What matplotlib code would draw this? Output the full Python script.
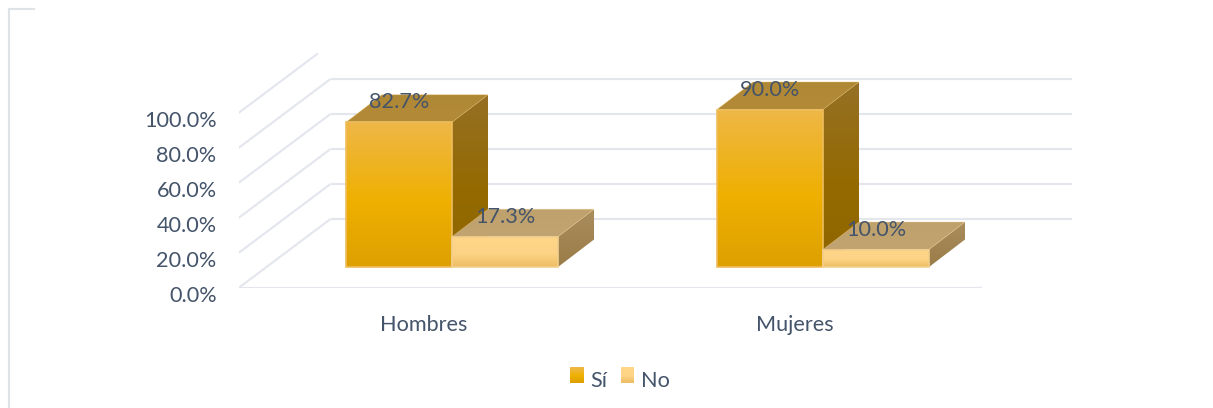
import numpy as np
import matplotlib
matplotlib.use("Agg")
import matplotlib.pyplot as plt
from matplotlib.colors import LinearSegmentedColormap
from matplotlib.legend_handler import HandlerBase
from matplotlib.lines import Line2D
from matplotlib.patches import Patch, Polygon, Rectangle
from matplotlib.transforms import ScaledTranslation

categories = ["Hombres", "Mujeres"]
si_values = [82.7, 90.0]
no_values = [17.3, 10.0]
series_names = ["Sí", "No"]
y_ticks = [0, 20, 40, 60, 80, 100]

W, H = 1213, 408
TEXT = "#44546A"
GRID = "#E3E6EC"
FONT = "Lato"
FS = 15.6

plt.rcParams["font.family"] = [FONT, "DejaVu Sans"]

fig = plt.figure(figsize=(W / 100, H / 100), dpi=100)
# Axes box in pixels: x 238.5..1072, y 288 (value 0) up to 40
left, right, bottom, top = 238.5, 1072, 288, 40
ax = fig.add_axes([left / W, 1 - bottom / H, (right - left) / W, (bottom - top) / H])
PX_X = 371.0          # pixels per category
PX_Y = 1.75           # pixels per percentage point
ax.set_xlim(0, (right - left) / PX_X)
ax.set_ylim(0, (bottom - top) / PX_Y)
for s in ax.spines.values():
    s.set_visible(False)
ax.patch.set_visible(False)

# Oblique depth of the floor, in data units
DX, DY = 92 / PX_X, 69 / PX_Y
FLOOR = 2.004
GRID_LW = 1.5

# Back wall and left wall lines
for t in y_ticks:
    frac = 59.5 / 69 if t == 100 else 1.0
    ax.plot([0, DX * frac], [t, t + DY * frac], color=GRID, lw=GRID_LW, zorder=1,
            solid_capstyle="butt")
    if t < 100:
        ax.plot([DX, DX + FLOOR], [t + DY, t + DY], color=GRID, lw=GRID_LW, zorder=1,
                solid_capstyle="butt")
ax.plot([0, FLOOR], [0, 0], color=GRID, lw=GRID_LW, zorder=1, solid_capstyle="butt")

# Bar geometry
BAR_W = 106.0 / PX_X
D0X, D0Y = 28 / PX_X, 21 / PX_Y
BDX, BDY = 36 / PX_X, 27.5 / PX_Y

si_style = dict(
    front=[(0.0, "#EEB747"), (0.55, "#EFB000"), (1.0, "#DDA000")],
    side=[(0.0, "#967026"), (0.55, "#946A00"), (1.0, "#8F6500")],
    top=[(0.0, "#AF8836"), (1.0, "#B38A38")],
    edge="#EDBE5C",
)
no_style = dict(
    front=[(0.0, "#FFD588"), (0.55, "#FDD487"), (1.0, "#EDBD63")],
    side=[(0.0, "#A98D5C"), (1.0, "#9A7C48")],
    top=[(0.0, "#BFA16D"), (1.0, "#C1A471")],
    edge="#F3CF8C",
)


def shaded(poly, stops, z):
    """Fill a polygon with a vertical gradient."""
    xs, ys = zip(*poly)
    cmap = LinearSegmentedColormap.from_list("g", stops)
    im = ax.imshow(np.linspace(0, 1, 128)[:, None], cmap=cmap, aspect="auto",
                   extent=(min(xs), max(xs), min(ys), max(ys)), origin="upper",
                   zorder=z, interpolation="bilinear")
    im.set_clip_path(Polygon(poly, closed=True, transform=ax.transData))


def bar3d(x0, value, style, z):
    x1 = x0 + BAR_W
    y0 = D0Y
    y1 = D0Y + value
    side = [(x1, y0), (x1 + BDX, y0 + BDY), (x1 + BDX, y1 + BDY), (x1, y1)]
    roof = [(x0, y1), (x1, y1), (x1 + BDX, y1 + BDY), (x0 + BDX, y1 + BDY)]
    front = [(x0, y0), (x1, y0), (x1, y1), (x0, y1)]
    shaded(side, style["side"], z)
    shaded(roof, style["top"], z + 0.1)
    shaded(front, style["front"], z + 0.2)
    ax.add_patch(Polygon(roof, closed=True, fill=False, ec=style["edge"], lw=0.5, alpha=0.5, zorder=z + 0.25))
    ax.add_patch(Polygon(front, closed=True, fill=False, ec=style["edge"], lw=1.2, zorder=z + 0.3))
    return (x0 + x1) / 2, y1


centers = np.arange(len(categories)) + 0.5
labels = []
for c, si, no in zip(centers, si_values, no_values):
    base = c + D0X
    labels.append((*bar3d(base - BAR_W, si, si_style, 3), si))
    labels.append((*bar3d(base, no, no_style, 4), no))
for x, y, v in labels:
    ax.annotate(f"{v:.1f}%", (x, y), xytext=(0, 20 * 0.72), textcoords="offset points",
                ha="center", va="center", color=TEXT, fontsize=FS, zorder=8)

# Axes text
ax.set_yticks(y_ticks)
ax.set_yticklabels([f"{t:.1f}%" for t in y_ticks])
ax.set_xticks(centers)
ax.set_xticklabels(categories)
ax.tick_params(axis="both", length=0, labelsize=FS, labelcolor=TEXT)
ax.tick_params(axis="y", pad=22 * 0.72)
ax.tick_params(axis="x", pad=27 * 0.72)
shift = ScaledTranslation(0, -6 / 100, fig.dpi_scale_trans)
for lab in ax.get_yticklabels():
    lab.set_transform(lab.get_transform() + shift)


class GradientHandler(HandlerBase):
    def __init__(self, stops):
        super().__init__()
        self.cmap = LinearSegmentedColormap.from_list("h", stops)

    def create_artists(self, legend, orig, xd, yd, width, height, fontsize, trans):
        n = 14
        lift = 3.2
        out = []
        for i in range(n):
            out.append(Rectangle((-xd, -yd + lift + height * i / n), width, height / n + 0.2,
                                 fc=self.cmap(1 - (i + 0.5) / n), ec="none", transform=trans))
        return out


h_si = Patch(label=series_names[0])
h_no = Patch(label=series_names[1])
leg = fig.legend(
    handles=[h_si, h_no],
    handler_map={h_si: GradientHandler(si_style["front"]),
                 h_no: GradientHandler(no_style["front"])},
    loc="center", bbox_to_anchor=(620 / W, 1 - 381 / H), ncol=2, frameon=False,
    fontsize=FS, labelcolor=TEXT, handlelength=0.63, handleheight=0.7,
    handletextpad=0.3, columnspacing=0.6, borderpad=0, borderaxespad=0,
)

# Corner of the surrounding frame
fig.add_artist(Line2D([34 / W, 8.5 / W, 8.5 / W], [1 - 9 / H, 1 - 9 / H, 0],
                      color="#DEE3E8", lw=1.5, transform=fig.transFigure))

fig.savefig("out.png", dpi=100, facecolor="white")
